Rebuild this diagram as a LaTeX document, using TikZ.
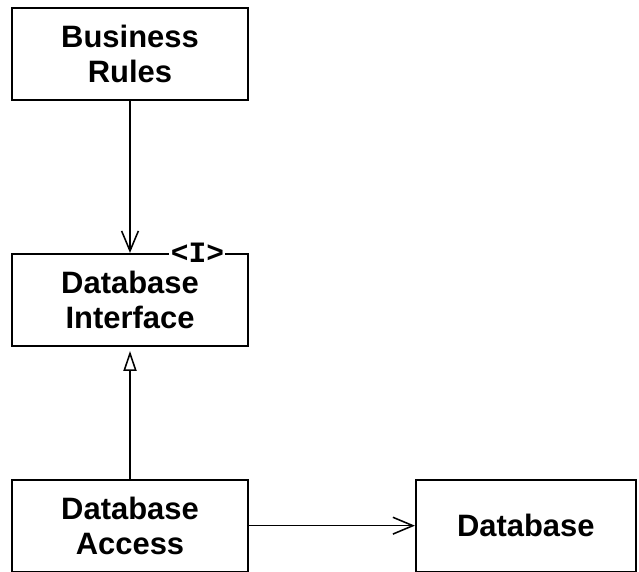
\documentclass[tikz,border=0pt]{standalone}
\usepackage{fontspec}
\setmainfont{Liberation Sans}
\newfontfamily\stereofont{Liberation Mono}
\usetikzlibrary{
	arrows.meta,
	positioning
}

\begin{document}
\begin{tikzpicture}[
		comp/.style={draw, line width=1.3pt, minimum width=5.9cm, minimum height=2.3cm, align=center,
			font=\fontsize{22}{25}\selectfont\bfseries},
		stereo/.style={fill=white, inner sep=1pt, font=\fontsize{21}{21}\selectfont\stereofont\bfseries},
		uses/.style={-{Straight Barb[length=0.5cm, width=0.42cm, line width=1.1pt]}, line width=1.1pt},
		implements/.style={-{Triangle[open, length=0.5cm, width=0.33cm, line width=1.1pt]}, line width=1.1pt, shorten >=3pt}
		]
		
		\useasboundingbox (0,0) rectangle (15.975,-14.275);
		
		% =========================
		% Components
		% =========================
		\node[comp] (rules) at (3.25,-1.35) {Business\\Rules};
		\node[comp, below=3.8cm of rules] (dbiface) {Database\\Interface};
		\node[comp, below=3.3cm of dbiface] (dbaccess) {Database\\Access};
		\node[comp, right=4.15cm of dbaccess, minimum width=5.5cm] (db) {Database};
		
		% interface marker on the border
		\node[stereo, anchor=east] (imark) at ([xshift=-0.58cm]dbiface.north east) {<I>};
		
		% =========================
		% Dependencies
		% =========================
		\draw[uses] (rules) -- (dbiface);
		\draw[implements] (dbaccess) -- (dbiface);
		\draw[uses] (dbaccess) -- (db);
		
	\end{tikzpicture}
\end{document}
